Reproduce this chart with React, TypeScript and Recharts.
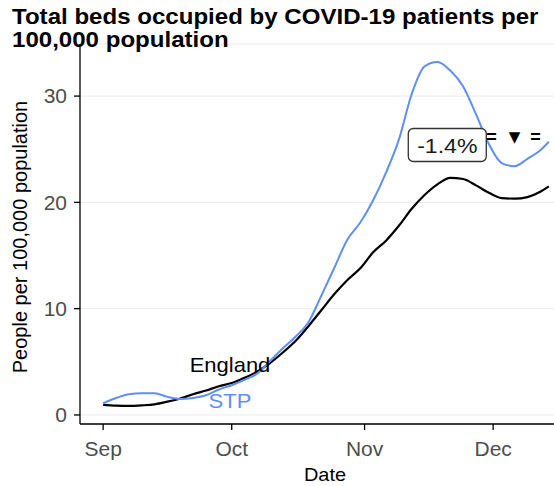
import React from 'react';
import { LineChart, Line, XAxis, YAxis, CartesianGrid, ReferenceDot } from 'recharts';

const FONT = "'Liberation Sans', Arial, Helvetica, sans-serif";

// days since 1 Sep
const days = [0, 3, 6, 9, 12, 15, 18, 21, 24, 27, 30, 33, 36, 39, 42, 45, 48, 51, 54, 57, 60, 63, 66, 69, 72, 75, 78, 81, 84, 87, 90, 93, 96, 99, 102, 104];
const englandValues = [0.95, 0.87, 0.85, 0.9, 1.0, 1.25, 1.55, 1.95, 2.3, 2.7, 3.0, 3.5, 4.1, 4.9, 5.9, 7.0, 8.4, 9.9, 11.4, 12.7, 13.8, 15.3, 16.4, 17.8, 19.4, 20.7, 21.7, 22.3, 22.2, 21.6, 20.9, 20.4, 20.35, 20.5, 21.0, 21.5];
const stpValues = [1.1, 1.6, 1.95, 2.05, 2.05, 1.7, 1.5, 1.6, 1.85, 2.4, 2.8, 3.3, 3.9, 5.1, 6.3, 7.4, 8.8, 11.3, 13.9, 16.5, 18.1, 20.2, 22.8, 25.9, 30.2, 32.8, 33.2, 32.4, 30.9, 28.3, 25.5, 23.7, 23.4, 24.1, 24.9, 25.7];

const monthTickDays = [0, 30, 61, 91];
const monthTickLabels = ['Sep', 'Oct', 'Nov', 'Dec'];
const yTicks = [0, 10, 20, 30];

const titleLines = ['Total beds occupied by COVID-19 patients per', '100,000 population'];
const yAxisTitle = 'People per 100,000 population';
const xAxisTitle = 'Date';

const seriesLabels = ['England', 'STP'];
const seriesLabelDays = [29.6, 29.6];
const seriesLabelValues = [4.75, 1.32];

const changeLabel = '-1.4%';
const changeLabelDay = 80.3;
const changeLabelValue = 25.4;

const trendGlyphs = ['=', '▼', '='];
const trendGlyphDays = [90.6, 96.0, 100.9];
const trendGlyphValue = 26.15;

const ENGLAND_COLOR = '#000000';
const STP_COLOR = '#5f8ff0';

const data = days.map((d, i) => ({ day: d, england: englandValues[i], stp: stpValues[i] }));

type STProps = {
  x: number;
  y: number;
  size: number;
  fill?: string;
  weight?: string | number;
  anchor?: 'start' | 'middle' | 'end';
  sx?: number;
  baseline?: string;
  family?: string;
  children: React.ReactNode;
};

function SText({ x, y, size, fill = '#000', weight = 'normal', anchor = 'start', sx = 1.1, baseline, family = FONT, children }: STProps) {
  return (
    <text
      transform={`translate(${x},${y}) scale(${sx},1)`}
      x={0}
      y={0}
      fontSize={size}
      fill={fill}
      fontWeight={weight}
      textAnchor={anchor}
      fontFamily={family}
      dominantBaseline={baseline as any}
    >
      {children}
    </text>
  );
}

export default function App() {
  return (
    <div style={{ position: 'absolute', left: 0, top: 0, width: 554, height: 486, background: '#ffffff', overflow: 'hidden' }}>
      <LineChart width={554} height={486} data={data} margin={{ top: 44, right: 0, bottom: 0, left: 0 }}>
        <CartesianGrid vertical={false} stroke="#ebebeb" strokeWidth={1} />
        <XAxis
          dataKey="day"
          type="number"
          domain={[-5.4, 105.2]}
          ticks={monthTickDays}
          allowDataOverflow
          height={62}
          tickSize={6}
          tickMargin={6}
          axisLine={{ stroke: '#000', strokeWidth: 1.3 }}
          tickLine={{ stroke: '#000', strokeWidth: 1.3 }}
          tick={(p: any) => (
            <SText x={p.x} y={p.y + 20} anchor="middle" size={20} fill="#4d4d4d" sx={1.05}>
              {monthTickLabels[monthTickDays.indexOf(p.payload.value)]}
            </SText>
          )}
        />
        <YAxis
          type="number"
          domain={[-0.85, 34.9]}
          ticks={yTicks}
          allowDataOverflow
          width={80}
          tickSize={6}
          tickMargin={7}
          axisLine={{ stroke: '#000', strokeWidth: 1.3 }}
          tickLine={{ stroke: '#000', strokeWidth: 1.3 }}
          tick={(p: any) => (
            <SText x={p.x} y={p.y} anchor="end" size={20} fill="#4d4d4d" sx={1.05} baseline="central">
              {p.payload.value}
            </SText>
          )}
        />
        <Line type="monotone" dataKey="england" stroke={ENGLAND_COLOR} strokeWidth={2.2} dot={false} isAnimationActive={false} />
        <Line type="monotone" dataKey="stp" stroke={STP_COLOR} strokeWidth={2} dot={false} isAnimationActive={false} />
        {seriesLabels.map((lab, i) => (
          <ReferenceDot
            key={lab}
            x={seriesLabelDays[i]}
            y={seriesLabelValues[i]}
            r={1}
            isFront
            shape={(p: any) => (
              <SText x={p.cx} y={p.cy} anchor="middle" size={20} fill={i === 0 ? '#000' : STP_COLOR} baseline="central">
                {lab}
              </SText>
            )}
          />
        ))}
        <ReferenceDot
          x={changeLabelDay}
          y={changeLabelValue}
          r={1}
          isFront
          shape={(p: any) => (
            <g>
              <rect x={p.cx - 39} y={p.cy - 16.5} width={78} height={33} rx={5} ry={5} fill="#ffffff" stroke="#333333" strokeWidth={1.3} />
              <SText x={p.cx} y={p.cy + 1} anchor="middle" size={21} fill="#1a1a1a" baseline="central">
                {changeLabel}
              </SText>
            </g>
          )}
        />
        {trendGlyphs.map((g, i) => (
          <ReferenceDot
            key={'tg' + i}
            x={trendGlyphDays[i]}
            y={trendGlyphValue}
            r={1}
            isFront
            shape={(p: any) => (
              <SText
                x={p.cx}
                y={p.cy}
                anchor="middle"
                size={i === 1 ? 15 : 18}
                weight="bold"
                fill="#000"
                sx={1}
                baseline="central"
                family={i === 1 ? "'DejaVu Sans', sans-serif" : FONT}
              >
                {g}
              </SText>
            )}
          />
        ))}
      </LineChart>
      <svg width={554} height={486} style={{ position: 'absolute', left: 0, top: 0, pointerEvents: 'none' }}>
        {titleLines.map((t, i) => (
          <SText key={t} x={12} y={24 + i * 23} size={21.5} weight="bold" fill="#000" sx={1.12}>
            {t}
          </SText>
        ))}
        <text
          transform="translate(27,237) rotate(-90)"
          x={0}
          y={0}
          fontSize={20}
          fontFamily={FONT}
          textAnchor="middle"
          fill="#000"
        >
          {yAxisTitle}
        </text>
        <SText x={325} y={481} anchor="middle" size={19} fill="#000" sx={1.05}>
          {xAxisTitle}
        </SText>
      </svg>
    </div>
  );
}
